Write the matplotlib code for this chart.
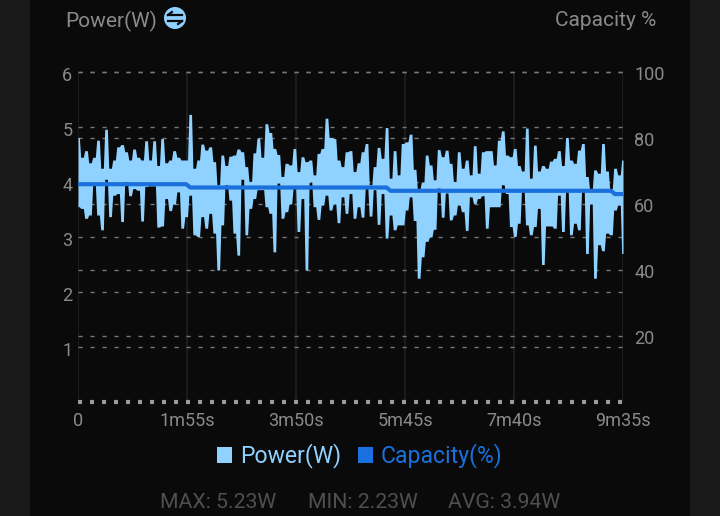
import numpy as np
import matplotlib
matplotlib.use('Agg')
import matplotlib.pyplot as plt
from matplotlib.patches import Rectangle, Circle, Patch
from matplotlib.transforms import ScaledTranslation

power_hi = [4.81, 4.45, 4.57, 4.35, 4.45, 4.76, 4.25, 4.96, 4.25, 4.40, 4.64, 4.68, 4.55, 4.40, 4.60, 4.45,
            4.40, 4.75, 4.40, 4.75, 4.30, 4.79, 4.35, 4.40, 4.57, 4.45, 4.40,
            4.40, 5.23, 4.25, 4.40, 4.69, 4.58, 4.64, 4.37, 3.95, 4.49, 4.30, 4.47, 4.49, 4.60, 4.55, 4.28,
            4.01, 4.53, 4.80, 4.45, 5.06, 4.90, 4.61, 4.50, 4.10, 4.34, 4.31, 4.61,
            4.19, 4.46, 4.37, 4.40, 4.13, 4.52, 4.61, 5.16, 4.81, 4.79, 4.40, 4.28, 4.55, 4.57, 4.19, 4.35,
            4.55, 4.70, 3.95, 4.28, 4.63, 4.43, 4.99, 4.07, 4.57, 4.13, 4.70,
            4.73, 4.87, 4.23, 3.86, 4.00, 4.49, 4.31, 4.04, 4.59, 4.46, 4.58, 4.34, 4.01, 4.55, 4.25, 4.40,
            4.13, 4.66, 4.16, 4.55, 4.57, 4.57, 4.31, 4.76, 4.93, 4.49, 4.46, 4.61,
            4.30, 4.20, 4.98, 4.07, 4.67, 4.20, 4.30, 4.25, 4.38, 4.43, 4.57, 4.30, 4.81, 4.40, 4.34, 4.58,
            4.70, 4.10, 3.85, 4.22, 4.16, 4.70, 4.20, 3.88, 4.25, 4.13, 4.40]
power_lo = [3.55, 3.52, 3.34, 3.40, 3.95, 3.40, 3.13, 4.05, 3.37, 3.76, 3.79, 3.28, 4.01, 3.75, 3.88, 3.85,
            3.29, 3.92, 3.93, 3.93, 3.18, 3.20, 3.70, 3.48, 3.60, 3.82, 3.16,
            3.37, 3.76, 3.04, 3.01, 3.37, 3.16, 3.43, 3.07, 2.40, 3.22, 3.95, 3.67, 3.07, 2.67, 4.05, 3.04,
            3.52, 3.70, 3.86, 3.86, 3.55, 3.43, 2.73, 3.98, 3.34, 3.46, 3.60, 3.89,
            3.10, 3.70, 2.40, 4.00, 3.55, 3.32, 3.58, 3.76, 3.49, 3.60, 3.26, 3.73, 3.43, 3.79, 3.34, 3.55,
            3.36, 3.88, 3.38, 3.86, 3.23, 3.79, 2.98, 3.40, 3.13, 3.22, 3.22,
            3.49, 3.73, 3.30, 2.25, 2.64, 2.92, 3.00, 3.14, 3.89, 3.36, 3.80, 3.31, 3.40, 3.58, 3.46, 3.12,
            3.73, 3.61, 3.70, 3.75, 3.16, 3.55, 3.55, 3.55, 3.95, 3.79, 3.19, 3.01,
            3.25, 3.85, 3.22, 3.04, 3.19, 3.52, 2.50, 3.20, 3.20, 3.16, 3.76, 3.10, 3.83, 3.04, 3.25, 3.13,
            3.86, 2.70, 3.60, 2.25, 2.86, 2.75, 3.07, 3.04, 3.49, 3.58, 2.70]
capacity = [66] * 28 + [65] * 50 + [64] * 56 + [63] * 3

x_ticks = [0, 115, 230, 345, 460, 575]
x_labels = ['0', '1m55s', '3m50s', '5m45s', '7m40s', '9m35s']
power_ticks = [1, 2, 3, 4, 5, 6]
capacity_ticks = [20, 40, 60, 80, 100]
footer = [('MAX: 5.23W', 160), ('MIN: 2.23W', 308), ('AVG: 3.94W', 448)]

PANEL = '#0a0a0a'
GREY = '#8a8a8a'
LIGHT = '#90d2ff'
BLUE = '#1a70dc'

plt.rcParams['font.family'] = ['Roboto', 'DejaVu Sans']
plt.rcParams['lines.scale_dashes'] = False

W, H = 720, 516
fig = plt.figure(figsize=(W / 100, H / 100), dpi=100, facecolor='#1a1a1a')


def px(x, y):
    return x / W, 1 - y / H


# dark card behind everything
fig.patches.append(Rectangle((30 / W, 0), 660 / W, 1, transform=fig.transFigure, facecolor=PANEL,
                             edgecolor='none', zorder=-5))

ax = fig.add_axes([78 / W, 1 - 402 / H, 545 / W, 330 / H])
ax.set_facecolor('none')
ax2 = ax.twinx()
ax2.set_facecolor('none')

t = np.linspace(0, 575, len(power_hi))
ax.set_xlim(0, 575)
ax.set_ylim(0, 6)
ax2.set_ylim(0, 100)

# grids
for tick in x_ticks:
    ax.axvline(tick, color='#222222', lw=1.1, zorder=1)
for tick in power_ticks:
    ax.axhline(tick, color='#777777', lw=1.0, ls=(0, (3, 5.64)), zorder=1, clip_on=False)
for tick in capacity_ticks:
    ax.axhline(tick * 6 / 100, color='#777777', lw=1.0, ls=(0, (3, 5.64)), zorder=1, clip_on=False)
ax.axhline(0, color='#9a9a9a', lw=3, ls=(0, (2.9, 5.74)), zorder=2, clip_on=False)

# hold each reading for most of its slot so the spikes get flat tops and steep sides
half = 1.4
t_held = np.clip(np.column_stack([t - half, t + half]).ravel(), 0, 575)
ax.fill_between(t_held, np.repeat(power_lo, 2), np.repeat(power_hi, 2), color=LIGHT, lw=0, zorder=3)
ax2.plot(t, capacity, color=BLUE, lw=3, zorder=4, solid_capstyle='butt')

for side in ax.spines.values():
    side.set_visible(False)
for side in ax2.spines.values():
    side.set_visible(False)

ax.set_xticks(x_ticks)
ax.set_xticklabels(x_labels)
ax.set_yticks(power_ticks)
ax2.set_yticks(capacity_ticks)
ax.tick_params(axis='x', length=0, pad=7, labelsize=13, labelcolor=GREY)
ax.tick_params(axis='y', length=0, pad=4, labelsize=13, labelcolor=GREY)
ax2.tick_params(axis='y', length=0, pad=8, labelsize=13, labelcolor=GREY)

# y labels sit a little under their grid lines
for lab in ax.get_yticklabels():
    lab.set_transform(lab.get_transform() + ScaledTranslation(0, -2 / 100, fig.dpi_scale_trans))
for lab in ax2.get_yticklabels():
    lab.set_transform(lab.get_transform() + ScaledTranslation(0, -1.5 / 100, fig.dpi_scale_trans))

fig.text(*px(65, 21), 'Power(W)', color=GREY, fontsize=15, va='center', ha='left')
fig.text(*px(656, 21), 'Capacity %', color=GREY, fontsize=15, va='center', ha='right')

# switch icon next to the title
fig.patches.append(Circle((175, H - 18), 11, transform=None, facecolor=LIGHT, edgecolor='none'))
for y0, x0, x1, tip in [(15, 168, 182, 168), (21, 168, 182, 182)]:
    fig.add_artist(plt.Line2D([x0 / W, x1 / W], [1 - y0 / H] * 2, color=PANEL, lw=1.6))
    off = -3 if tip == 168 else 3
    fig.add_artist(plt.Line2D([tip / W, (tip - off * 1.3) / W],
                              [1 - y0 / H, 1 - (y0 + off) / H], color=PANEL, lw=1.6))

handles = [Patch(facecolor=LIGHT, label='Power(W)'), Patch(facecolor=BLUE, label='Capacity(%)')]
fig.legend(handles=handles, loc='center', bbox_to_anchor=px(360, 456), ncol=2, frameon=False,
           fontsize=16.6, handlelength=0.65, handleheight=0.65, handletextpad=0.35, columnspacing=0.7,
           labelcolor=[LIGHT, BLUE])

for label, x in footer:
    fig.text(*px(x, 502), label, color='#4f4f4f', fontsize=15.3, va='center', ha='left')

fig.savefig('out.png', dpi=100, facecolor=fig.get_facecolor())
